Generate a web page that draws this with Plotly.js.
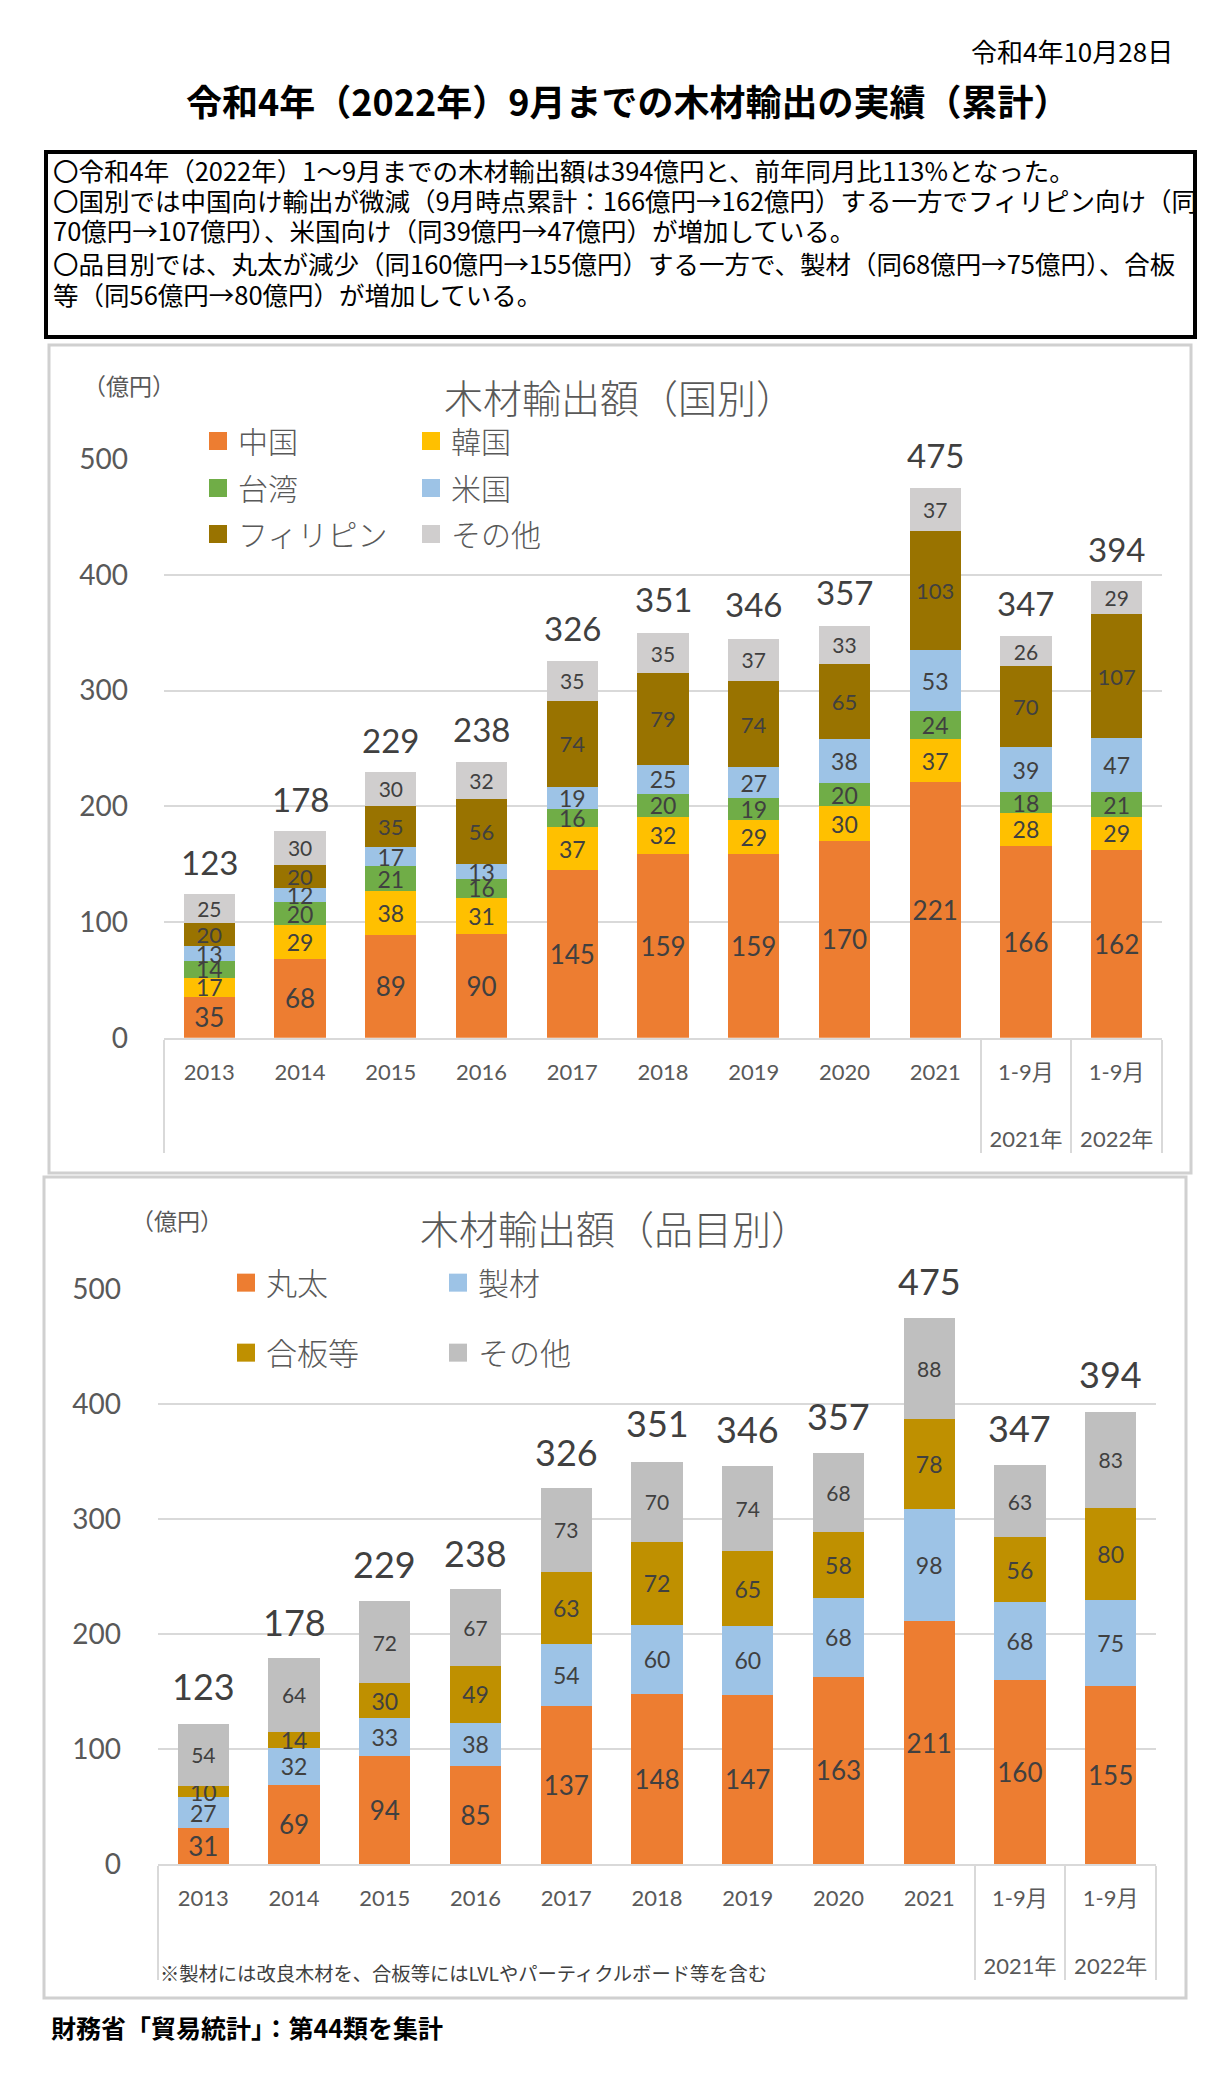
<!DOCTYPE html>
<html>
<head>
<meta charset="utf-8">
<script src="https://cdn.plot.ly/plotly-3.0.1.min.js"></script>
<style>
html,body{margin:0;padding:0;background:#ffffff;}
#chart{width:1229px;height:2097px;}
</style>
</head>
<body>
<div id="chart"></div>
<script>
// ---------- data ----------
const periods = ['2013','2014','2015','2016','2017','2018','2019','2020','2021','1-9月','1-9月'];
const periodGroups = [' ',' ',' ',' ',' ',' ',' ',' ',' ','2021年','2022年'];

// 木材輸出額（国別）  億円
const china          = [35, 68, 89, 90, 145, 159, 159, 170, 221, 166, 162];
const korea          = [17, 29, 38, 31, 37, 32, 29, 30, 37, 28, 29];
const taiwan         = [14, 20, 21, 16, 16, 20, 19, 20, 24, 18, 21];
const usa            = [13, 12, 17, 13, 19, 25, 27, 38, 53, 39, 47];
const philippines    = [20, 20, 35, 56, 74, 79, 74, 65, 103, 70, 107];
const otherCountries = [25, 30, 30, 32, 35, 35, 37, 33, 37, 26, 29];
const countryTotals  = [123, 178, 229, 238, 326, 351, 346, 357, 475, 347, 394];

// 木材輸出額（品目別）  億円
const logs       = [31, 69, 94, 85, 137, 148, 147, 163, 211, 160, 155];
const lumber     = [27, 32, 33, 38, 54, 60, 60, 68, 98, 68, 75];
const plywood    = [10, 14, 30, 49, 63, 72, 65, 58, 78, 56, 80];
const otherItems = [54, 64, 72, 67, 73, 70, 74, 68, 88, 63, 83];
const itemTotals = [123, 178, 229, 238, 326, 351, 346, 357, 475, 347, 394];

const countryNames = ['中国','韓国','台湾','米国','フィリピン','その他'];
const itemNames = ['丸太','製材','合板等','その他'];

// ---------- helpers ----------
const W = 1229, H = 2097;
const fx = p => p / W;
const fy = p => 1 - p / H;
const NUM = 'Lato, "Noto Sans CJK JP", sans-serif';
const JP = '"Noto Sans CJK JP", "Noto Sans", sans-serif';
const TXT = '#404040';

// inner labels get an invisible tiny second line so that the outer level sits lower
const inner = periods.map(p => p + '<br><span style="font-size:1px">\u00a0</span>');
const outer = periodGroups.map(g => g.trim() ? '<br>' + g : g);
const xcat = [outer, inner];

function barTrace(vals, name, color, xa, ya, legendId, size) {
  return {
    type: 'bar', x: xcat, y: vals, name: name,
    xaxis: xa, yaxis: ya, legend: legendId,
    marker: {color: color, line: {width: 0}},
    text: vals.map(String),
    textposition: 'inside', insidetextanchor: 'middle', textangle: 0,
    constraintext: 'none',
    insidetextfont: {family: NUM, size: size, color: TXT},
    hoverinfo: 'skip'
  };
}

const topColors = ['#ED7D31','#FFC000','#70AD47','#9DC3E6','#997300','#D0CECE'];
const topSeries = [china, korea, taiwan, usa, philippines, otherCountries];
const topSizes = [26, 23, 23, 23, 22, 21];
const botColors = ['#ED7D31','#9DC3E6','#BF9000','#BFBFBF'];
const botSeries = [logs, lumber, plywood, otherItems];
const botSizes = [26, 23, 23, 21];

const traces = [];
topSeries.forEach((s, i) => traces.push(barTrace(s, countryNames[i], topColors[i], 'x', 'y', i === 0 ? 'legend' : 'legend' + (i + 1), topSizes[i])));
botSeries.forEach((s, i) => traces.push(barTrace(s, itemNames[i], botColors[i], 'x2', 'y2', 'legend' + (i + 7), botSizes[i])));

// legend positions (px): symbol centre minus 20
const legendPos = [
  [198, 441], [411, 441], [198, 488], [411, 488], [198, 534], [411, 534],
  [226, 1283], [438, 1283], [226, 1353], [438, 1353]
];
const legendFontSize = [30, 30, 30, 30, 30, 30, 31, 31, 31, 31];

const layout = {
  width: W, height: H,
  margin: {l: 0, r: 0, t: 0, b: 0},
  paper_bgcolor: '#ffffff', plot_bgcolor: 'rgba(0,0,0,0)',
  barmode: 'stack', bargap: 0.435,
  showlegend: true,
  font: {family: NUM, color: '#595959'},
  xaxis: {
    type: 'multicategory', domain: [fx(164), fx(1162)], anchor: 'y',
    showline: true, linecolor: '#D9D9D9', linewidth: 2,
    showdividers: true, dividercolor: '#D9D9D9', dividerwidth: 2,
    tickfont: {family: NUM, size: 22, color: '#595959'},
    ticks: '', ticklabelstandoff: 14, showgrid: false, fixedrange: true
  },
  yaxis: {
    domain: [fy(1037.7), fy(459.2)], anchor: 'x', range: [0, 500],
    tick0: 0, dtick: 100, showgrid: true, gridcolor: '#D9D9D9', gridwidth: 2,
    zeroline: false, showline: false, ticks: '', ticklabelstandoff: 35,
    tickfont: {family: NUM, size: 28, color: '#595959'}, fixedrange: true
  },
  xaxis2: {
    type: 'multicategory', domain: [fx(158), fx(1156)], anchor: 'y2',
    showline: true, linecolor: '#D9D9D9', linewidth: 2,
    showdividers: true, dividercolor: '#D9D9D9', dividerwidth: 2,
    tickfont: {family: NUM, size: 22, color: '#595959'},
    ticks: '', ticklabelstandoff: 14, showgrid: false, fixedrange: true
  },
  yaxis2: {
    domain: [fy(1864), fy(1289)], anchor: 'x2', range: [0, 500],
    tick0: 0, dtick: 100, showgrid: true, gridcolor: '#D9D9D9', gridwidth: 2,
    zeroline: false, showline: false, ticks: '', ticklabelstandoff: 36,
    tickfont: {family: NUM, size: 28, color: '#595959'}, fixedrange: true
  },
  shapes: [
    // summary text box
    {type: 'rect', xref: 'paper', yref: 'paper', x0: fx(46), x1: fx(1195), y0: fy(152), y1: fy(337),
     line: {color: '#000000', width: 4}, fillcolor: 'rgba(0,0,0,0)'},
    // chart frames
    {type: 'rect', xref: 'paper', yref: 'paper', x0: fx(49), x1: fx(1191), y0: fy(345), y1: fy(1173),
     line: {color: '#D0D0D0', width: 3}, fillcolor: 'rgba(0,0,0,0)', layer: 'below'},
    {type: 'rect', xref: 'paper', yref: 'paper', x0: fx(44), x1: fx(1186), y0: fy(1177), y1: fy(1998),
     line: {color: '#D0D0D0', width: 3}, fillcolor: 'rgba(0,0,0,0)', layer: 'below'}
  ],
  annotations: []
};

legendPos.forEach((p, i) => {
  const key = i === 0 ? 'legend' : 'legend' + (i + 1);
  layout[key] = {
    x: fx(p[0]), y: fy(p[1]), xanchor: 'left', yanchor: 'middle',
    xref: 'paper', yref: 'paper',
    bgcolor: 'rgba(0,0,0,0)', borderwidth: 0,
    font: {family: JP, size: legendFontSize[i], color: '#595959', weight: 300},
    orientation: 'v', traceorder: 'normal'
  };
});

function paperText(text, x, y, size, opts) {
  opts = opts || {};
  layout.annotations.push({
    xref: 'paper', yref: 'paper', x: fx(x), y: fy(y), text: text, showarrow: false,
    xanchor: opts.xanchor || 'left', yanchor: 'middle',
    font: {family: opts.family || JP, size: size, color: opts.color || '#000000', weight: opts.weight || 400}
  });
}

// page texts
paperText('令和4年10月28日', 1175, 50, 26, {xanchor: 'right'});
paperText('<b>令和4年（2022年）9月までの木材輸出の実績（累計）</b>', 627, 100, 36, {xanchor: 'center'});
const summaryLines = [
  '〇令和4年（2022年）1～9月までの木材輸出額は394億円と、前年同月比113%となった。',
  '〇国別では中国向け輸出が微減（9月時点累計：166億円→162億円）する一方でフィリピン向け（同',
  '70億円→107億円）、米国向け（同39億円→47億円）が増加している。',
  '〇品目別では、丸太が減少（同160億円→155億円）する一方で、製材（同68億円→75億円）、合板',
  '等（同56億円→80億円）が増加している。'
];
const summaryY = [169, 200, 230, 262, 293];
summaryLines.forEach((t, i) => paperText(t, 51, summaryY[i], 25.5));

// chart titles and units
paperText('（億円）', 129, 385, 23, {xanchor: 'center', color: '#595959'});
paperText('木材輸出額（国別）', 619, 396, 39, {xanchor: 'center', color: '#595959', weight: 300});
paperText('（億円）', 177, 1220, 23, {xanchor: 'center', color: '#595959'});
paperText('木材輸出額（品目別）', 615, 1227, 39, {xanchor: 'center', color: '#595959', weight: 300});
paperText('※製材には改良木材を、合板等にはLVLやパーティクルボード等を含む', 158, 1973, 19.3, {color: '#404040'});
paperText('<b>財務省「貿易統計」：第44類を集計</b>', 49, 2027, 25);

// totals above bars
countryTotals.forEach((t, i) => layout.annotations.push({
  xref: 'x', yref: 'y', x: i, y: t, text: String(t), showarrow: false,
  xanchor: 'center', yanchor: 'middle', yshift: 33,
  font: {family: NUM, size: 33, color: TXT}
}));
itemTotals.forEach((t, i) => layout.annotations.push({
  xref: 'x2', yref: 'y2', x: i, y: t, text: String(t), showarrow: false,
  xanchor: 'center', yanchor: 'middle', yshift: 37,
  font: {family: NUM, size: 36, color: TXT}
}));

Plotly.newPlot('chart', traces, layout, {staticPlot: true, displayModeBar: false, responsive: false})
  .then(gd => {
    // enlarge the legend colour squares to match the reference (18 px)
    gd.querySelectorAll('.legendpoints path').forEach(p => p.setAttribute('d', 'M9,9H-9V-9H9Z'));
  });
</script>
</body>
</html>
